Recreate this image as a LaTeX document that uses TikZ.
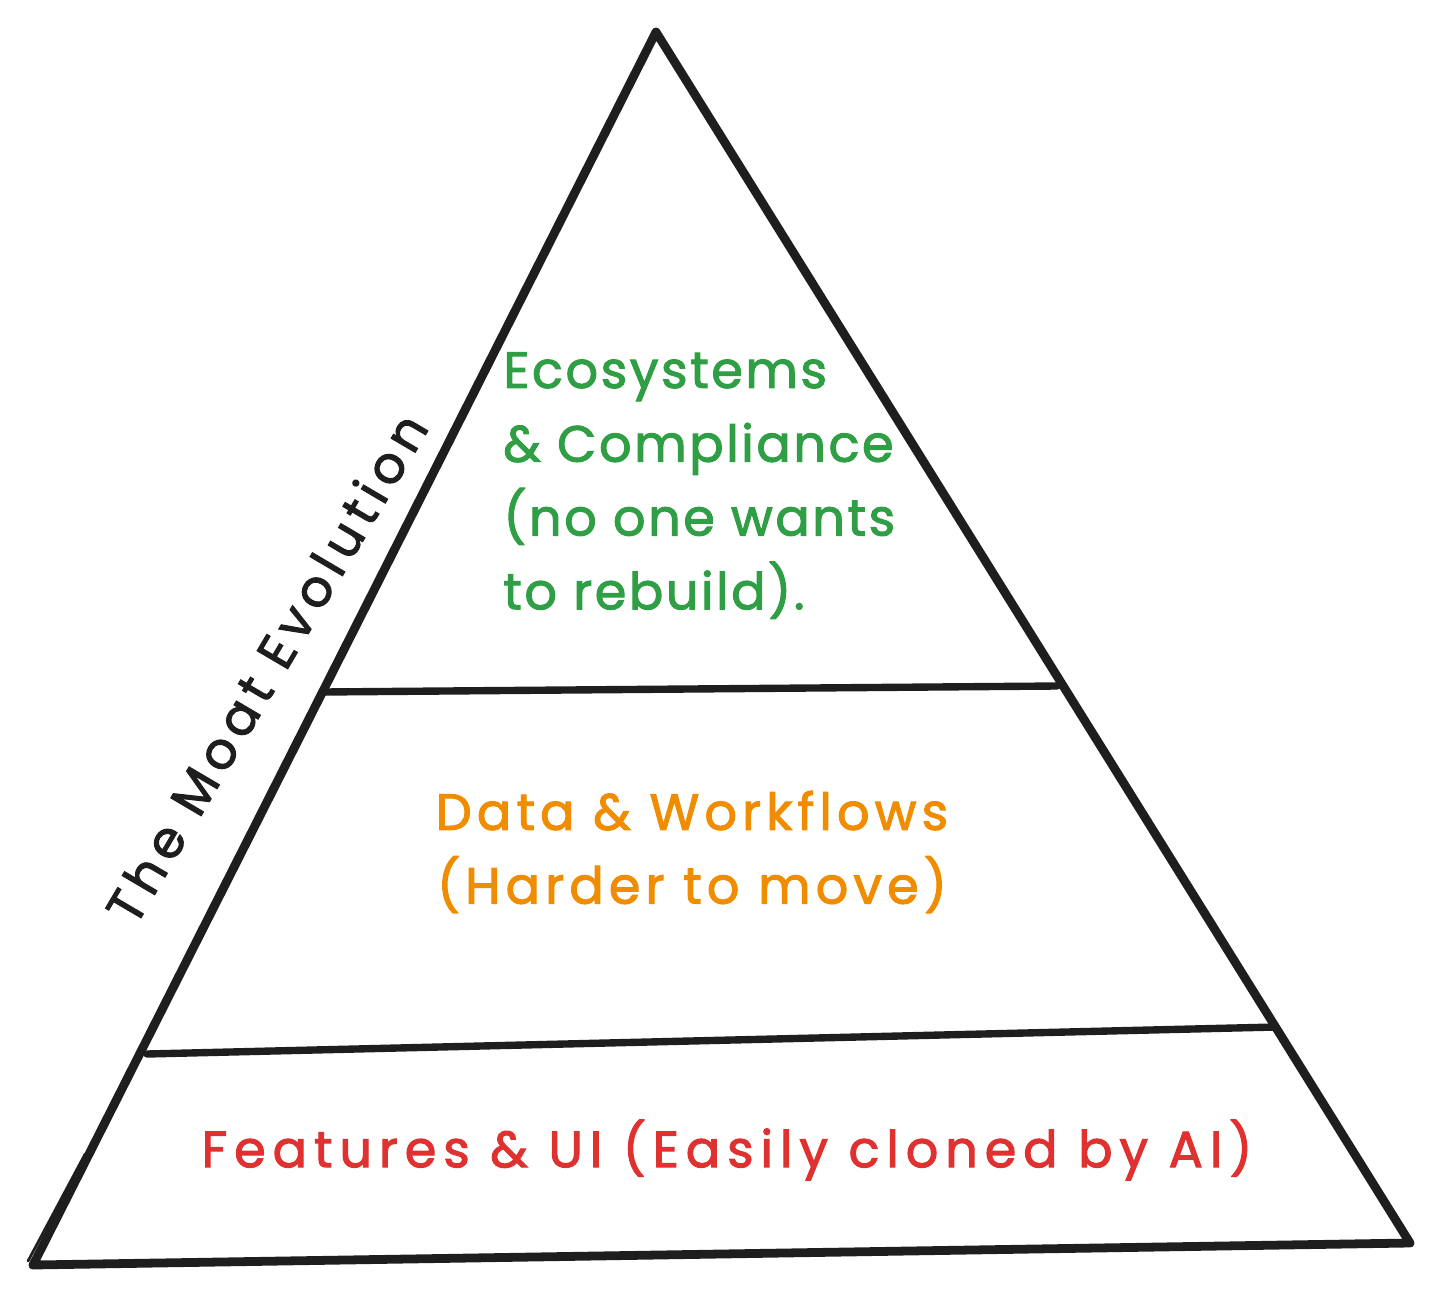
\documentclass[tikz,border=0pt]{standalone}
\usepackage{fontspec}
\setmainfont{Poppins}[LetterSpace=10,FakeBold=2]
\newfontfamily\handTight{Poppins}[LetterSpace=5,FakeBold=2]
\newfontfamily\handWide{Poppins}[LetterSpace=13.5,FakeBold=2]
\usepackage{tikz}
\usetikzlibrary{positioning,calc}
\definecolor{inkBlack}{HTML}{1E1E1E}
\definecolor{moatGreen}{HTML}{2F9E44}
\definecolor{moatOrange}{HTML}{F08C00}
\definecolor{moatRed}{HTML}{E03131}

\begin{document}
\begin{tikzpicture}[x=0.02cm,y=-0.02cm,
  edge/.style={draw=inkBlack,line width=5pt,line cap=round,line join=round},
  divider/.style={draw=inkBlack,line width=4.2pt,line cap=round},
  label/.style={inner sep=0pt,font=\fontsize{29}{42}\selectfont}]
\useasboundingbox (0,0) rectangle (1440,1301);
% --- pyramid corners and dividers ---
\coordinate (apex) at (656,32);
\coordinate (bl) at (33,1265);
\coordinate (br) at (1410,1243);
\coordinate (upL) at (323,692);
\coordinate (upR) at (1057,686);
\coordinate (loL) at (147,1054);
\coordinate (loR) at (1276,1027);
\draw[edge] (apex) -- (bl) -- (br) -- cycle;
\draw[inkBlack,line width=1.5pt,line cap=round] ($(bl)!0.09!(apex)+(-4,0)$) -- ($(bl)+(-5,-4)$);
\draw[divider] (upL) -- (upR);
\draw[divider] (loL) -- (loR);
% --- tier texts ---
\node[label,moatGreen,anchor=north west,align=left,
  font=\handTight\fontsize{29}{42}\selectfont] (top) at (503,352)
  {Ecosystems\\\& Compliance\\(no one wants\\to rebuild).};
\node[label,moatOrange,align=center] (mid) at (692,852)
  {Data \& Workflows\\(Harder to move)};
\node[label,moatRed,font=\handWide\fontsize{29}{42}\selectfont] (base) at (727,1150)
  {Features \& UI (Easily cloned by AI)};
% --- side title ---
\node[label,inkBlack,rotate=59.5,font=\handWide\fontsize{29}{42}\selectfont] (title) at (266,668)
  {The Moat Evolution};
\end{tikzpicture}
\end{document}
